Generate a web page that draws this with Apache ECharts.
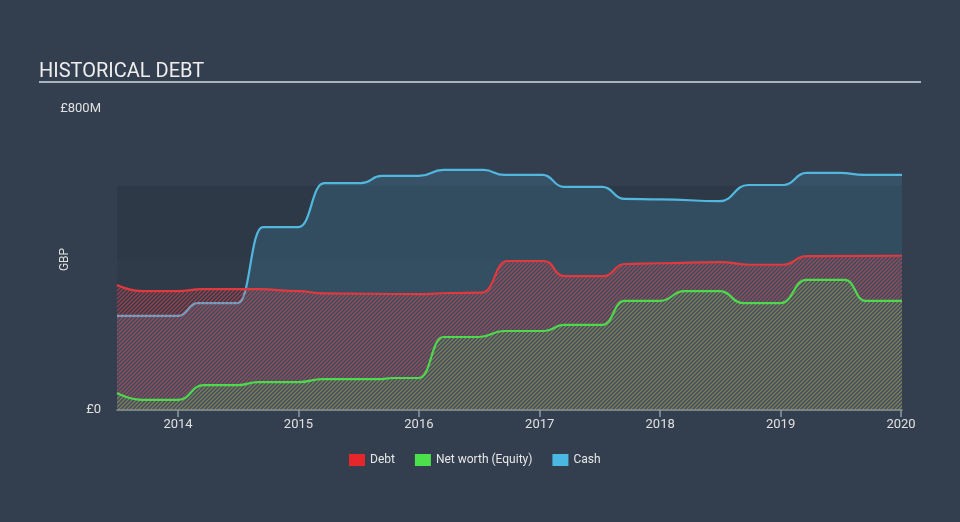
<!DOCTYPE html>
<html>
<head>
<meta charset="utf-8">
<script src="https://cdn.jsdelivr.net/npm/echarts@6/dist/echarts.min.js"></script>
<style>
html,body{margin:0;padding:0;background:#333f4f;}
#chart{width:960px;height:522px;}
</style>
</head>
<body>
<div id="chart"></div>
<script>
// Values in millions of GBP
var cashDates = ['2013-06-30','2014-01-01','2014-03-01','2014-07-01','2014-09-15','2015-01-01','2015-03-20','2015-07-10','2015-09-10','2016-01-01','2016-03-15','2016-07-15','2016-09-15','2017-01-10','2017-03-15','2017-07-10','2017-09-15','2018-01-01','2018-07-01','2018-09-25','2019-01-10','2019-03-20','2019-07-01','2019-09-10','2020-01-04'];
var cashValues = [250,250,284,284,486,486,603,603,622,622,638,638,625,625,593,593,561,560,555,598,598,630,630,625,625];

var debtDates = ['2013-06-30','2013-09-15','2014-01-01','2014-03-15','2014-09-01','2015-01-01','2015-03-15','2016-01-01','2016-04-01','2016-07-10','2016-09-25','2017-01-15','2017-03-15','2017-07-15','2017-09-15','2018-01-01','2018-07-01','2018-10-01','2019-01-10','2019-03-20','2020-01-04'];
var debtValues = [332,316,316,321,321,316,310,308,311,312,396,396,356,356,388,390,393,386,386,409,410];

var equityDates = ['2013-06-30','2013-09-15','2014-01-01','2014-03-20','2014-07-01','2014-09-01','2015-01-01','2015-03-15','2015-09-01','2015-10-15','2016-01-01','2016-03-15','2016-07-01','2016-09-15','2017-01-15','2017-03-15','2017-07-10','2017-09-15','2018-01-01','2018-03-15','2018-07-01','2018-09-10','2019-01-01','2019-03-20','2019-07-15','2019-09-15','2020-01-04'];
var equityValues = [45,27,27,66,66,74,74,82,82,85,85,194,194,210,210,226,226,290,290,316,316,284,284,346,346,290,290];

var yTicks = [0, 800];
var seriesNames = ['Debt','Net worth (Equity)','Cash'];

function zip(d, v){ return d.map(function(x,i){ return [x, v[i]]; }); }

function hatch(color){
  var c = document.createElement('canvas');
  c.width = 4; c.height = 4;
  var ctx = c.getContext('2d');
  ctx.strokeStyle = color;
  ctx.lineWidth = 1.4;
  ctx.beginPath();
  ctx.moveTo(-1, 5); ctx.lineTo(5, -1);
  ctx.moveTo(-1, 1); ctx.lineTo(1, -1);
  ctx.moveTo(3, 5); ctx.lineTo(5, 3);
  ctx.stroke();
  return c;
}

var chart = echarts.init(document.getElementById('chart'), null, {renderer:'canvas'});
chart.setOption({
  backgroundColor: '#333f4f',
  animation: false,
  title: {
    text: 'HISTORICAL DEBT', left: 34, top: 57,
    textStyle: {color:'#eeeeee', fontSize: 20, fontWeight: 'normal', fontFamily: 'Roboto'}
  },
  graphic: [{
    type: 'rect', shape: {x: 39, y: 81, width: 882, height: 2},
    style: {fill: '#aab2bd'}
  }],
  legend: {
    bottom: 51, left: 344, itemWidth: 16, itemHeight: 12, itemGap: 20,
    icon: 'rect',
    textStyle: {color:'#e8e8e8', fontSize: 12, fontFamily: 'Roboto'},
    data: seriesNames
  },
  grid: {left: 117, right: 58, top: 109, bottom: 112},
  xAxis: {
    type: 'time',
    min: '2013-06-30', max: '2020-01-04',
    splitNumber: 7,
    axisLine: {lineStyle: {color: '#8f99a5', width: 1.5}},
    axisTick: {show: true, length: 7, lineStyle: {color:'#8f99a5', width: 1.5}},
    axisLabel: {color: '#e0e0e0', fontSize: 13, fontFamily: 'Roboto', margin: 8,
      formatter: function(v){ return new Date(v).getFullYear() + ''; }},
    splitLine: {show: false},
    minInterval: 365*24*3600*1000
  },
  yAxis: {
    type: 'value', min: 0, max: 800, interval: 800,
    name: 'GBP', nameLocation: 'middle', nameGap: 46, nameRotate: 90,
    nameMoveOverlap: false,
    nameTextStyle: {color:'#e0e0e0', fontSize: 12, fontFamily: 'Roboto'},
    axisLine: {show: false}, axisTick: {show: false},
    splitLine: {show: false},
    axisLabel: {color:'#e0e0e0', fontSize: 13, fontFamily: 'Roboto', margin: 16,
      formatter: function(v){ return v === 0 ? '£0' : '£' + v + 'M'; }}
  },
  series: [
    {
      name: 'Cash', type: 'line', data: zip(cashDates, cashValues),
      smooth: 0.5, smoothMonotone: 'x', showSymbol: false, z: 2,
      lineStyle: {color: '#52b7de', width: 2.2},
      itemStyle: {color: '#4ab8e0'},
      areaStyle: {color: 'rgba(78,180,222,0.24)'},
      markArea: {
        silent: true,
        data: [
          [{yAxis: 0, itemStyle: {color: 'rgba(0,0,0,0.05)'}}, {yAxis: 399}],
          [{yAxis: 399, itemStyle: {color: 'rgba(0,0,0,0.09)'}}, {yAxis: 596}]
        ]
      }
    },
    {
      name: 'Debt', type: 'line', data: zip(debtDates, debtValues),
      smooth: 0.5, smoothMonotone: 'x', showSymbol: false, z: 3,
      lineStyle: {color: '#e03a3e', width: 2.2},
      itemStyle: {color: '#e5262b'},
      areaStyle: {color: {image: hatch('rgba(235,70,80,0.8)'), repeat: 'repeat'}}
    },
    {
      name: 'Net worth (Equity)', type: 'line', data: zip(equityDates, equityValues),
      smooth: 0.5, smoothMonotone: 'x', showSymbol: false, z: 4,
      lineStyle: {color: '#4cd94c', width: 2.2},
      itemStyle: {color: '#4ce04c'},
      areaStyle: {color: {image: hatch('rgba(90,205,90,0.55)'), repeat: 'repeat'}}
    }
  ]
});
</script>
</body>
</html>
